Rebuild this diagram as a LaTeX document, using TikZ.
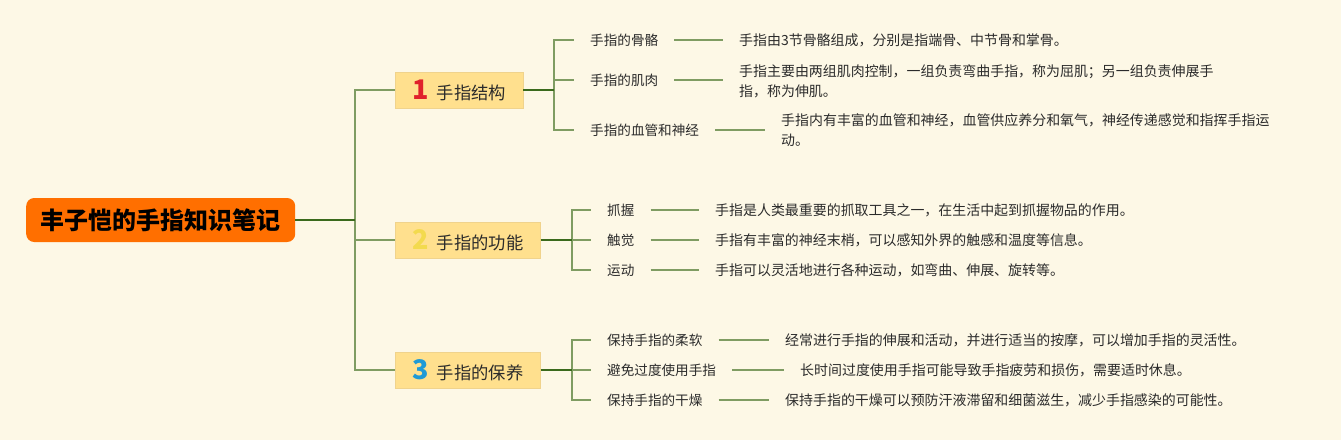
\documentclass[tikz,border=0pt]{standalone}
\usepackage{fontspec}
\setmainfont{Noto Sans CJK SC}
\definecolor{bg}{HTML}{FDF8E6}
\definecolor{rootc}{HTML}{FF6F00}
\definecolor{boxfill}{HTML}{FFE08E}
\definecolor{boxline}{HTML}{F0D38C}
\definecolor{lgreen}{HTML}{7F9C62}
\definecolor{dgreen}{HTML}{3A6A1C}
\definecolor{txt}{HTML}{2B2B2B}
\definecolor{one}{HTML}{E0212B}
\definecolor{two}{HTML}{F3DA4E}
\definecolor{three}{HTML}{1F9AD6}
\newcommand{\numd}[2]{{\fontsize{27}{27}\selectfont\bfseries\color{#1}#2}\hspace{8pt}}
\begin{document}
\begin{tikzpicture}[x=1pt,y=-1pt,
  every node/.style={inner sep=0pt, text=txt},
  rootbox/.style={fill=rootc, rounded corners=8pt, minimum height=44pt, inner xsep=14.5pt,
    font=\fontsize{24}{28}\selectfont\bfseries, text=black, anchor=west},
  branchbox/.style={fill=boxfill, draw=boxline, line width=0.8pt, minimum height=36pt,
    inner xsep=17pt, anchor=west, font=\fontsize{17.3}{20}\selectfont},
  leaf/.style={anchor=west, inner xsep=16pt, font=\fontsize{13.6}{20}\selectfont},
  note/.style={anchor=west, inner xsep=16pt, align=left, font=\fontsize{13.95}{20}\selectfont},
  lline/.style={draw=lgreen, line width=1.5pt},
  dline/.style={draw=dgreen, line width=2pt},
]
\useasboundingbox[fill=bg] (0,0) rectangle (1341,440);

% root
\node[rootbox] (root) at (26,220) {丰子恺的手指知识笔记};

% branches
\node[branchbox] (b1) at (395,90) {\numd{one}{1}手指结构};
\node[branchbox] (b2) at (395,240) {\numd{two}{2}手指的功能};
\node[branchbox] (b3) at (395,370) {\numd{three}{3}手指的保养};

% branch 1 leaves
\node[leaf] (c11) at (574,40) {手指的骨骼};
\node[leaf] (c12) at (574,80) {手指的肌肉};
\node[leaf] (c13) at (574,130) {手指的血管和神经};
\node[note] (n11) at (723,40) {手指由3节骨骼组成，分别是指端骨、中节骨和掌骨。};
\node[note] (n12) at (723,81) {手指主要由两组肌肉控制，一组负责弯曲手指，称为屈肌；另一组负责伸展手\\指，称为伸肌。};
\node[note] (n13) at (765,130) {手指内有丰富的血管和神经，血管供应养分和氧气，神经传递感觉和指挥手指运\\动。};

% branch 2 leaves
\node[leaf] (c21) at (591,210) {抓握};
\node[leaf] (c22) at (591,240) {触觉};
\node[leaf] (c23) at (591,270) {运动};
\node[note] (n21) at (699,210) {手指是人类最重要的抓取工具之一，在生活中起到抓握物品的作用。};
\node[note] (n22) at (699,240) {手指有丰富的神经末梢，可以感知外界的触感和温度等信息。};
\node[note] (n23) at (699,270) {手指可以灵活地进行各种运动，如弯曲、伸展、旋转等。};

% branch 3 leaves
\node[leaf] (c31) at (591,340) {保持手指的柔软};
\node[leaf] (c32) at (591,370) {避免过度使用手指};
\node[leaf] (c33) at (591,400) {保持手指的干燥};
\node[note] (n31) at (769,340) {经常进行手指的伸展和活动，并进行适当的按摩，可以增加手指的灵活性。};
\node[note] (n32) at (784,370) {长时间过度使用手指可能导致手指疲劳和损伤，需要适时休息。};
\node[note] (n33) at (769,400) {保持手指的干燥可以预防汗液滞留和细菌滋生，减少手指感染的可能性。};

% junctions
\coordinate (j0) at (355,220);
\coordinate (j1) at (554,90);
\coordinate (j2) at (572,240);
\coordinate (j3) at (572,370);

% light connectors
\draw[lline] (j0) |- (b1.west);
\draw[lline] (j0) |- (b2.west);
\draw[lline] (j0) |- (b3.west);
\foreach \c in {c11,c12,c13} \draw[lline] (j1) |- (\c.west);
\foreach \c in {c21,c22,c23} \draw[lline] (j2) |- (\c.west);
\foreach \c in {c31,c32,c33} \draw[lline] (j3) |- (\c.west);
\foreach \a/\b in {c11/n11,c12/n12,c13/n13,c21/n21,c22/n22,c23/n23,c31/n31,c32/n32,c33/n33}
  \draw[lline] (\a.east) -- (\a.east -| \b.west);

% dark connectors
\draw[dline] (root.east) -- (j0);
\draw[dline] (b1.east) -- (j1);
\draw[dline] (b2.east) -- (j2);
\draw[dline] (b3.east) -- (j3);
\end{tikzpicture}
\end{document}
